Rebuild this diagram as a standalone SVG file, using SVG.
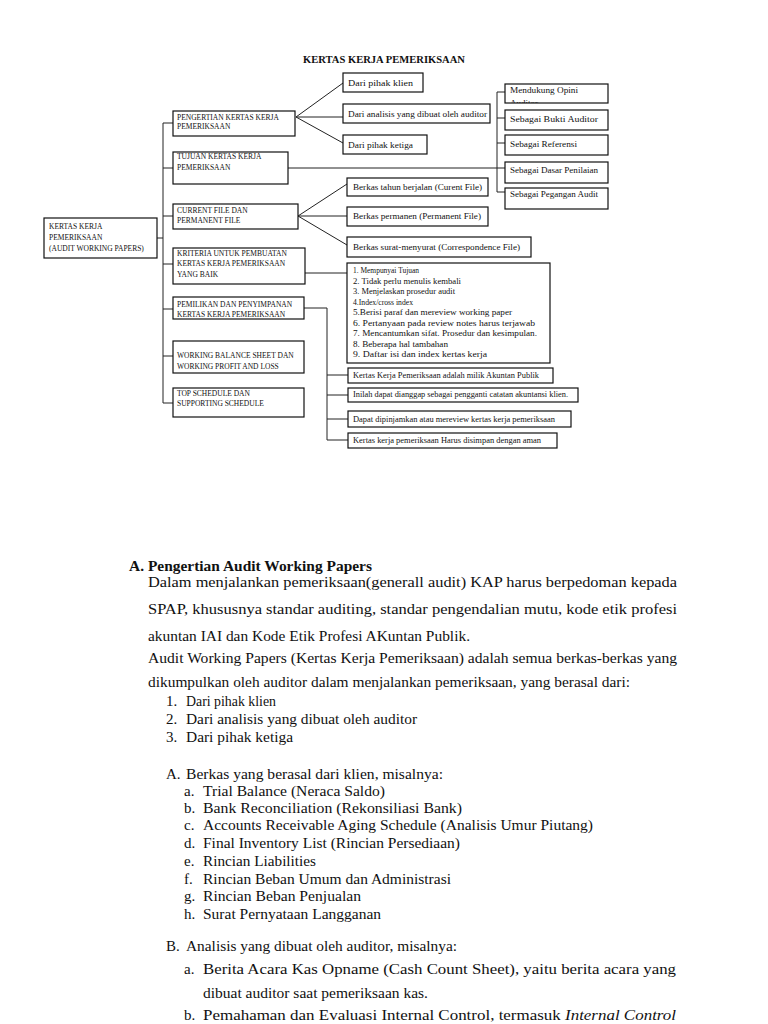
<svg xmlns="http://www.w3.org/2000/svg" width="768" height="1024" viewBox="0 0 768 1024">
<style>
.bx{fill:#fff;stroke:#111;stroke-width:1.2}
.ln{fill:none;stroke:#222;stroke-width:1}
.cap{font-family:"Liberation Serif",serif;font-size:7.5px;fill:#111}
.lb{font-family:"Liberation Serif",serif;font-size:9px;fill:#111}
.sm{font-family:"Liberation Serif",serif;font-size:7.5px;fill:#111}
.tt{font-family:"Liberation Serif",serif;font-size:9.5px;font-weight:bold;fill:#111}
.bd{font-family:"Liberation Serif",serif;font-size:15px;fill:#111}
.hd{font-family:"Liberation Serif",serif;font-size:15px;font-weight:bold;fill:#111}
</style>
<defs>
<clipPath id="clipM"><rect x="505" y="84" width="103" height="19"/></clipPath>
</defs>
<rect width="768" height="1024" fill="#fff"/>
<text class="tt" x="303" y="63" textLength="162" lengthAdjust="spacingAndGlyphs">KERTAS KERJA PEMERIKSAAN</text>

<g id="connectors">
<path class="ln" d="M157,238 H163 M163,123 V403 M163,123 H173 M163,168 H173 M163,216 H173 M163,264 H173 M163,309 H173 M163,356 H173 M163,403 H173"/>
<path class="ln" d="M296,117 L343,83 M296,117 H343 M296,117 L343,143"/>
<path class="ln" d="M288,168 H505 M497,92 V192 M497,92 H505 M497,118 H505 M497,143 H505 M497,192 H505"/>
<path class="ln" d="M298,216 L347,184 M298,216 H347 M298,216 L347,245"/>
<path class="ln" d="M305,273 H347"/>
<path class="ln" d="M304,308 H327 V440 M327,375 H348 M327,395 H348 M327,419 H348 M327,440 H348"/>
</g>

<g id="root">
<rect class="bx" x="44" y="218" width="113" height="40"/>
<text class="cap" x="49" y="229">KERTAS KERJA</text>
<text class="cap" x="49" y="240">PEMERIKSAAN</text>
<text class="cap" x="49" y="251">(AUDIT WORKING PAPERS)</text>
</g>

<g id="pengertian">
<rect class="bx" x="173" y="111" width="122" height="25"/>
<text class="cap" x="177" y="120">PENGERTIAN KERTAS KERJA</text>
<text class="cap" x="177" y="129">PEMERIKSAAN</text>
</g>
<g id="tujuan">
<rect class="bx" x="173" y="152" width="115" height="32"/>
<text class="cap" x="177" y="159">TUJUAN KERTAS KERJA</text>
<text class="cap" x="177" y="170">PEMERIKSAAN</text>
</g>
<g id="current">
<rect class="bx" x="173" y="204" width="125" height="25"/>
<text class="cap" x="177" y="213">CURRENT FILE DAN</text>
<text class="cap" x="177" y="223">PERMANENT FILE</text>
</g>
<g id="kriteria">
<rect class="bx" x="173" y="248" width="132" height="36"/>
<text class="cap" x="177" y="256">KRITERIA UNTUK PEMBUATAN</text>
<text class="cap" x="177" y="266">KERTAS KERJA PEMERIKSAAN</text>
<text class="cap" x="177" y="277">YANG BAIK</text>
</g>
<g id="pemilikan">
<rect class="bx" x="173" y="297" width="131" height="22"/>
<text class="cap" x="177" y="307">PEMILIKAN DAN PENYIMPANAN</text>
<text class="cap" x="177" y="317">KERTAS KERJA PEMERIKSAAN</text>
</g>
<g id="working">
<rect class="bx" x="173" y="341" width="131" height="32"/>
<text class="cap" x="177" y="358">WORKING BALANCE SHEET DAN</text>
<text class="cap" x="177" y="369">WORKING PROFIT AND LOSS</text>
</g>
<g id="top">
<rect class="bx" x="173" y="388" width="131" height="29"/>
<text class="cap" x="177" y="396">TOP SCHEDULE DAN</text>
<text class="cap" x="177" y="406">SUPPORTING SCHEDULE</text>
</g>

<g id="klien">
<rect class="bx" x="343" y="73" width="80" height="19"/>
<text class="lb" x="348" y="86" textLength="65" lengthAdjust="spacingAndGlyphs">Dari pihak klien</text>
</g>
<g id="analisis">
<rect class="bx" x="343" y="104" width="147" height="19"/>
<text class="lb" x="348" y="117" textLength="139" lengthAdjust="spacingAndGlyphs">Dari analisis yang dibuat oleh auditor</text>
</g>
<g id="ketiga">
<rect class="bx" x="343" y="135" width="84" height="19"/>
<text class="lb" x="348" y="148" textLength="65" lengthAdjust="spacingAndGlyphs">Dari pihak ketiga</text>
</g>

<g id="opini">
<rect class="bx" x="505" y="84" width="103" height="19"/>
<text class="lb" x="510" y="93" textLength="68" lengthAdjust="spacingAndGlyphs">Mendukung Opini</text>
<text class="lb" x="510" y="106" clip-path="url(#clipM)">Auditor</text>
</g>
<g id="bukti">
<rect class="bx" x="505" y="110" width="103" height="20"/>
<text class="lb" x="510" y="122" textLength="88" lengthAdjust="spacingAndGlyphs">Sebagai Bukti Auditor</text>
</g>
<g id="referensi">
<rect class="bx" x="505" y="135" width="103" height="20"/>
<text class="lb" x="510" y="147" textLength="67" lengthAdjust="spacingAndGlyphs">Sebagai Referensi</text>
</g>
<g id="dasar">
<rect class="bx" x="505" y="162" width="103" height="21"/>
<text class="lb" x="510" y="173" textLength="88" lengthAdjust="spacingAndGlyphs">Sebagai Dasar Penilaian</text>
</g>
<g id="pegangan">
<rect class="bx" x="505" y="188" width="103" height="21"/>
<text class="lb" x="510" y="197" textLength="88" lengthAdjust="spacingAndGlyphs">Sebagai Pegangan Audit</text>
</g>

<g id="curentfile">
<rect class="bx" x="347" y="178" width="141" height="18"/>
<text class="lb" x="353" y="190" textLength="129" lengthAdjust="spacingAndGlyphs">Berkas tahun berjalan (Curent File)</text>
</g>
<g id="permanentfile">
<rect class="bx" x="347" y="207" width="141" height="19"/>
<text class="lb" x="353" y="219" textLength="128" lengthAdjust="spacingAndGlyphs">Berkas permanen (Permanent File)</text>
</g>
<g id="correspondence">
<rect class="bx" x="347" y="237" width="184" height="20"/>
<text class="lb" x="353" y="250" textLength="167" lengthAdjust="spacingAndGlyphs">Berkas surat-menyurat (Correspondence File)</text>
</g>

<g id="kriterialist">
<rect class="bx" x="347" y="263" width="203" height="100"/>
<text class="lb" x="353" y="273" textLength="66" lengthAdjust="spacingAndGlyphs">1. Mempunyai Tujuan</text>
<text class="lb" x="353" y="284" textLength="108" lengthAdjust="spacingAndGlyphs">2. Tidak perlu menulis kembali</text>
<text class="lb" x="353" y="294" textLength="102" lengthAdjust="spacingAndGlyphs">3. Menjelaskan prosedur audit</text>
<text class="lb" x="353" y="305" textLength="60" lengthAdjust="spacingAndGlyphs">4.Index/cross index</text>
<text class="lb" x="353" y="315" textLength="159" lengthAdjust="spacingAndGlyphs">5.Berisi paraf dan mereview working paper</text>
<text class="lb" x="353" y="326" textLength="182" lengthAdjust="spacingAndGlyphs">6. Pertanyaan pada review notes harus terjawab</text>
<text class="lb" x="353" y="336" textLength="184" lengthAdjust="spacingAndGlyphs">7. Mencantumkan sifat. Prosedur dan kesimpulan.</text>
<text class="lb" x="353" y="347" textLength="95" lengthAdjust="spacingAndGlyphs">8. Beberapa hal tambahan</text>
<text class="lb" x="353" y="357" textLength="134" lengthAdjust="spacingAndGlyphs">9. Daftar isi dan index kertas kerja</text>
</g>

<g id="milik">
<rect class="bx" x="348" y="368" width="205" height="15"/>
<text class="sm" x="353" y="378" textLength="186" lengthAdjust="spacingAndGlyphs">Kertas Kerja Pemeriksaan adalah milik Akuntan Publik</text>
</g>
<g id="pengganti">
<rect class="bx" x="348" y="388" width="230" height="14"/>
<text class="sm" x="353" y="397" textLength="215" lengthAdjust="spacingAndGlyphs">Inilah dapat dianggap sebagai pengganti catatan akuntansi klien.</text>
</g>
<g id="dipinjam">
<rect class="bx" x="348" y="411" width="223" height="16"/>
<text class="sm" x="353" y="422" textLength="202" lengthAdjust="spacingAndGlyphs">Dapat dipinjamkan atau mereview kertas kerja pemeriksaan</text>
</g>
<g id="disimpan">
<rect class="bx" x="348" y="433" width="209" height="15"/>
<text class="sm" x="353" y="443" textLength="188" lengthAdjust="spacingAndGlyphs">Kertas kerja pemeriksaan Harus disimpan dengan aman</text>
</g>

<g id="body">
<text class="hd" x="129" y="571" textLength="243" lengthAdjust="spacingAndGlyphs">A. Pengertian Audit Working Papers</text>
<text class="bd" x="148" y="587" textLength="529" lengthAdjust="spacingAndGlyphs">Dalam menjalankan pemeriksaan(generall audit) KAP harus berpedoman kepada</text>
<text class="bd" x="148" y="614" textLength="529" lengthAdjust="spacingAndGlyphs">SPAP, khususnya standar auditing, standar pengendalian mutu, kode etik profesi</text>
<text class="bd" x="148" y="641" textLength="322" lengthAdjust="spacingAndGlyphs">akuntan IAI dan Kode Etik Profesi AKuntan Publik.</text>
<text class="bd" x="148" y="663" textLength="529" lengthAdjust="spacingAndGlyphs">Audit Working Papers (Kertas Kerja Pemeriksaan) adalah semua berkas-berkas yang</text>
<text class="bd" x="148" y="687" textLength="482" lengthAdjust="spacingAndGlyphs">dikumpulkan oleh auditor dalam menjalankan pemeriksaan, yang berasal dari:</text>
<text class="bd" x="166" y="706">1.</text><text class="bd" x="186" y="706" textLength="90" lengthAdjust="spacingAndGlyphs">Dari pihak klien</text>
<text class="bd" x="166" y="724">2.</text><text class="bd" x="186" y="724" textLength="231" lengthAdjust="spacingAndGlyphs">Dari analisis yang dibuat oleh auditor</text>
<text class="bd" x="166" y="742">3.</text><text class="bd" x="186" y="742" textLength="107" lengthAdjust="spacingAndGlyphs">Dari pihak ketiga</text>
<text class="bd" x="166" y="779">A.</text><text class="bd" x="186" y="779" textLength="257" lengthAdjust="spacingAndGlyphs">Berkas yang berasal dari klien, misalnya:</text>
<text class="bd" x="184" y="796">a.</text><text class="bd" x="203" y="796" textLength="182" lengthAdjust="spacingAndGlyphs">Trial Balance (Neraca Saldo)</text>
<text class="bd" x="184" y="813">b.</text><text class="bd" x="203" y="813" textLength="259" lengthAdjust="spacingAndGlyphs">Bank  Reconciliation (Rekonsiliasi Bank)</text>
<text class="bd" x="184" y="830">c.</text><text class="bd" x="203" y="830" textLength="390" lengthAdjust="spacingAndGlyphs">Accounts Receivable Aging Schedule (Analisis Umur Piutang)</text>
<text class="bd" x="184" y="848">d.</text><text class="bd" x="203" y="848" textLength="257" lengthAdjust="spacingAndGlyphs">Final Inventory List (Rincian Persediaan)</text>
<text class="bd" x="184" y="866">e.</text><text class="bd" x="203" y="866" textLength="113" lengthAdjust="spacingAndGlyphs">Rincian Liabilities</text>
<text class="bd" x="184" y="884">f.</text><text class="bd" x="203" y="884" textLength="248" lengthAdjust="spacingAndGlyphs">Rincian Beban Umum dan Administrasi</text>
<text class="bd" x="184" y="901">g.</text><text class="bd" x="203" y="901" textLength="158" lengthAdjust="spacingAndGlyphs">Rincian Beban Penjualan</text>
<text class="bd" x="184" y="919">h.</text><text class="bd" x="203" y="919" textLength="178" lengthAdjust="spacingAndGlyphs">Surat Pernyataan Langganan</text>
<text class="bd" x="166" y="951">B.</text><text class="bd" x="186" y="951" textLength="271" lengthAdjust="spacingAndGlyphs">Analisis yang dibuat oleh auditor, misalnya:</text>
<text class="bd" x="184" y="974">a.</text><text class="bd" x="203" y="974" textLength="473" lengthAdjust="spacingAndGlyphs">Berita Acara Kas Opname (Cash Count Sheet), yaitu berita acara yang</text>
<text class="bd" x="203" y="998" textLength="225" lengthAdjust="spacingAndGlyphs">dibuat auditor saat pemeriksaan kas.</text>
<text class="bd" x="184" y="1020">b.</text><text class="bd" x="203" y="1020" textLength="473" lengthAdjust="spacingAndGlyphs">Pemahaman dan Evaluasi Internal Control, termasuk <tspan font-style="italic">Internal Control</tspan></text>
</g>
</svg>
